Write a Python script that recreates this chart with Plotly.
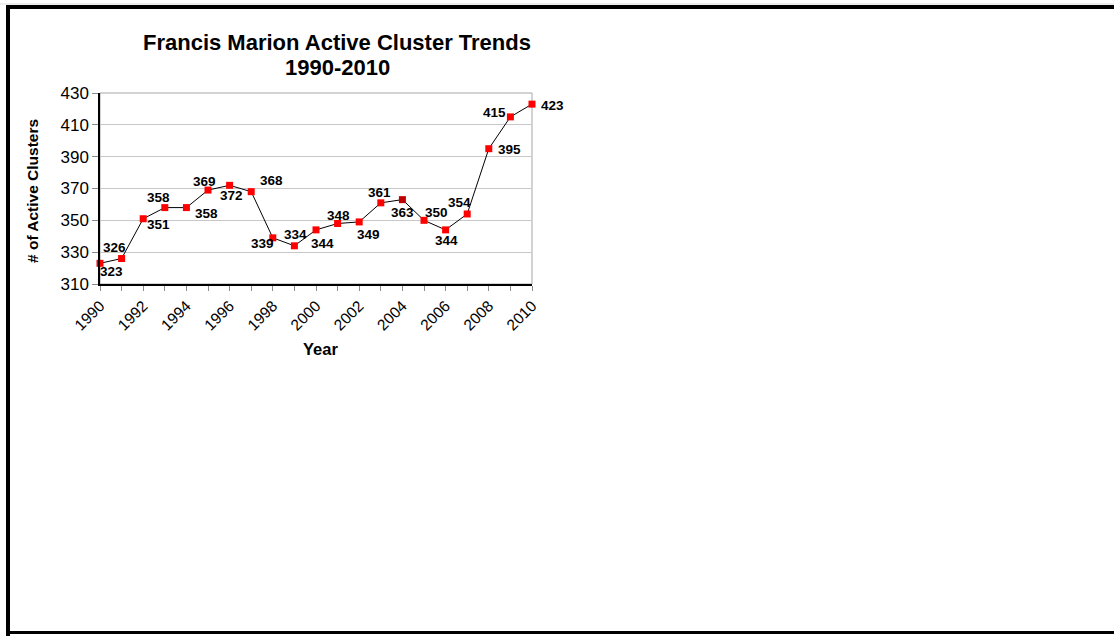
import plotly.graph_objects as go

# ---- data ----
years = list(range(1990, 2011))
clusters = [323, 326, 351, 358, 358, 369, 372, 368, 339, 334, 344,
            348, 349, 361, 363, 350, 344, 354, 395, 415, 423]
y_ticks = [310, 330, 350, 370, 390, 410, 430]
x_tick_labels = [str(y) for y in range(1990, 2011, 2)]

title_line1 = "Francis Marion Active Cluster Trends"
title_line2 = "1990-2010"
x_title = "Year"
y_title = "# of Active Clusters"

# label offsets in screen pixels (dx right, dy down)
label_offsets = [(11, 8), (-7.5, -11), (15, 6), (-6, -10), (20, 5.5), (-4, -9),
                 (1.5, 10), (20, -11.5), (-10, 5.5), (1, -11), (6, 14), (1, -8),
                 (9.5, 13), (-1, -10), (0, 12.5), (12.5, -8), (1, 11), (-8, -11.5),
                 (21, 1), (-16, -4), (20, 1)]

marker_colors = ["#ff0000"] * len(years)
marker_colors[years.index(2004)] = "#c00000"

# ---- layout geometry (pixels) ----
W, H = 1114, 636
PL, PR, PT, PB = 100, 532, 93, 284


def px_x(px):
    return (px - PL) / (PR - PL)


def px_y(py):
    return (PB - py) / (PB - PT)


FONT = "Liberation Sans, Arial, sans-serif"

fig = go.Figure()
fig.add_trace(go.Scatter(
    x=years, y=clusters, mode="lines+markers",
    line=dict(color="black", width=1),
    marker=dict(symbol="square", size=7, color=marker_colors,
                line=dict(width=0)),
    cliponaxis=False, showlegend=False, hoverinfo="x+y",
))

annotations = []
for yr, v, (dx, dy) in zip(years, clusters, label_offsets):
    annotations.append(dict(
        x=yr, y=v, xref="x", yref="y", text=str(v), showarrow=False,
        xshift=dx, yshift=-dy, xanchor="center", yanchor="middle",
        font=dict(family=FONT, size=13.5, color="black", weight="bold"),
    ))

for txt, cy in ((title_line1, 42), (title_line2, 67)):
    annotations.append(dict(
        x=px_x(337), y=px_y(cy), xref="paper", yref="paper", text=txt,
        showarrow=False, xanchor="center", yanchor="middle",
        font=dict(family=FONT, size=22, color="black", weight="bold"),
    ))
annotations.append(dict(
    x=px_x(320), y=px_y(349), xref="paper", yref="paper", text=x_title,
    showarrow=False, xanchor="center", yanchor="middle",
    font=dict(family=FONT, size=16.5, color="black", weight="bold"),
))
annotations.append(dict(
    x=px_x(32), y=px_y(191), xref="paper", yref="paper", text=y_title,
    showarrow=False, xanchor="center", yanchor="middle", textangle=-90,
    font=dict(family=FONT, size=15.5, color="black", weight="bold"),
))

shapes = [
    # plot-area frame (top/right gray)
    dict(type="rect", xref="paper", yref="paper", x0=0, x1=1, y0=0, y1=1,
         line=dict(color="#a6a6a6", width=1), layer="below"),
    # outer frame
    dict(type="line", xref="paper", yref="paper",
         x0=px_x(-2), x1=px_x(1130), y0=px_y(4), y1=px_y(4),
         line=dict(color="#dddddd", width=1)),
    dict(type="line", xref="paper", yref="paper",
         x0=px_x(6), x1=px_x(1130), y0=px_y(7), y1=px_y(7),
         line=dict(color="black", width=4)),
    dict(type="line", xref="paper", yref="paper",
         x0=px_x(8), x1=px_x(8), y0=px_y(5), y1=px_y(640),
         line=dict(color="black", width=4)),
    dict(type="line", xref="paper", yref="paper",
         x0=px_x(6), x1=px_x(1130), y0=px_y(632.5), y1=px_y(632.5),
         line=dict(color="black", width=3)),
]

fig.update_layout(
    width=W, height=H,
    margin=dict(l=PL, r=W - PR, t=PT, b=H - PB, autoexpand=False),
    paper_bgcolor="white", plot_bgcolor="white",
    font=dict(family=FONT, color="black"),
    annotations=annotations, shapes=shapes,
    showlegend=False,
)

fig.update_xaxes(
    range=[1990, 2010], tickmode="array",
    tickvals=[int(t) for t in x_tick_labels], ticktext=x_tick_labels,
    tickangle=-45, tickfont=dict(family=FONT, size=15.5, color="black"),
    ticks="outside", ticklen=5, tickcolor="#8c8c8c", tickwidth=1,
    minor=dict(tickmode="linear", tick0=1990, dtick=1, ticks="outside",
               ticklen=5, tickcolor="#8c8c8c", tickwidth=1, showgrid=False),
    showline=True, linecolor="black", linewidth=1.5,
    showgrid=False, zeroline=False, automargin=False,
)
fig.update_yaxes(
    range=[310, 430], tickmode="array", tickvals=y_ticks,
    ticktext=[str(t) for t in y_ticks],
    tickfont=dict(family=FONT, size=17, color="black"),
    ticks="outside", ticklen=6, tickcolor="#8c8c8c", tickwidth=1,
    showline=True, linecolor="black", linewidth=1.5,
    showgrid=True, gridcolor="#c8c8c8", gridwidth=1,
    zeroline=False, automargin=False,
)

fig.write_html("out.html",
               config={"displayModeBar": False},
               post_script="document.body.style.margin='0';"
                           "document.body.style.overflow='hidden';")
